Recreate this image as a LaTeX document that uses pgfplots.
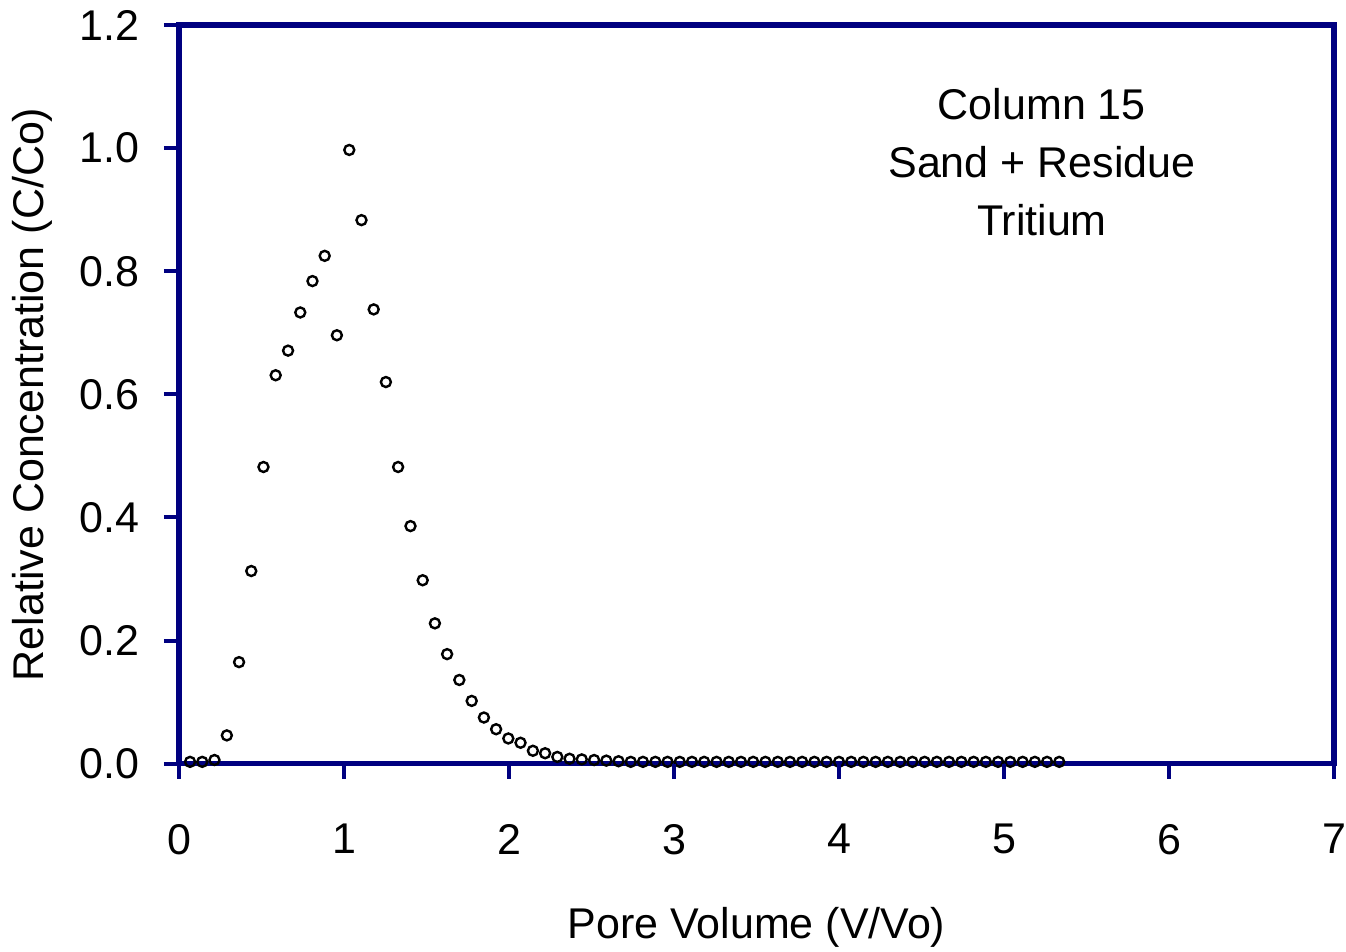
\documentclass[border=0pt]{standalone}
\usepackage{pgfplots}
\pgfplotsset{compat=1.18}
\usepackage{fontspec}
\setmainfont{Liberation Sans}
\definecolor{axnavy}{RGB}{0,0,128}
\begin{document}
\begin{tikzpicture}
\useasboundingbox (-179pt,-188.3pt) rectangle (1167pt,763.7pt);
\begin{axis}[
  at={(0,0)}, anchor=south west,
  scale only axis, width=1155pt, height=738.7pt,
  tick align=outside,
  major tick length=15pt,
  every tick/.append style={draw=axnavy, line width=4pt},
  xtick pos=bottom, ytick pos=left,
  xmin=0, xmax=7, ymin=0, ymax=1.2,
  xtick={0,1,2,3,4,5,6,7},
  ytick={0,0.2,0.4,0.6,0.8,1.0,1.2},
  yticklabels={0.0,0.2,0.4,0.6,0.8,1.0,1.2},
  xticklabels={0,1,2,3,4,5,6,7},
  axis line style={draw=axnavy, line width=5.5pt},
  clip=false,
  xticklabel style={font=\fontsize{43}{58}\selectfont, yshift=-42pt},
  yticklabel style={font=\fontsize{43}{58}\selectfont, xshift=-21pt},
  label style={font=\fontsize{43}{58}\selectfont},
  xlabel={Pore Volume (V/Vo)},
  ylabel={Relative Concentration (C/Co)},
  xlabel style={at={(axis description cs:0.5,-0.2373)}, anchor=base},
  ylabel style={at={(axis description cs:-0.1169,0.5)}, anchor=base},
  extra description/.code={
    \foreach \i in {0,1,2,3,4,5,6,7} {\draw[axnavy, line width=4pt] (axis cs:\i,0) -- ++(0,-15pt);}
    \foreach \v in {0,0.2,0.4,0.6,0.8,1.0,1.2} {\draw[axnavy, line width=4pt] (axis cs:0,\v) -- ++(-15pt,0);}
  },
]
\addplot[only marks, mark=o, mark size=5pt, mark options={draw=black, line width=2.4pt}] coordinates {
(0.067,0.003) (0.141,0.003) (0.215,0.006) (0.290,0.046) (0.364,0.165)
(0.438,0.313) (0.512,0.482) (0.586,0.631) (0.661,0.671) (0.735,0.733)
(0.809,0.784) (0.883,0.825) (0.957,0.696) (1.032,0.997) (1.106,0.883)
(1.180,0.738) (1.254,0.620) (1.328,0.482) (1.403,0.386) (1.477,0.298)
(1.551,0.228) (1.625,0.178) (1.699,0.136) (1.774,0.102) (1.848,0.075)
(1.922,0.056) (1.996,0.041) (2.070,0.034) (2.145,0.021) (2.219,0.017)
(2.293,0.011) (2.367,0.008) (2.441,0.007) (2.516,0.006) (2.590,0.005)
(2.664,0.004) (2.738,0.003) (2.812,0.003) (2.887,0.003) (2.961,0.003)
(3.035,0.003) (3.109,0.003) (3.183,0.003) (3.258,0.003) (3.332,0.003)
(3.406,0.003) (3.480,0.003) (3.554,0.003) (3.629,0.003) (3.703,0.003)
(3.777,0.003) (3.851,0.003) (3.925,0.003) (4.000,0.003) (4.074,0.003)
(4.148,0.003) (4.222,0.003) (4.296,0.003) (4.371,0.003) (4.445,0.003)
(4.519,0.003) (4.593,0.003) (4.667,0.003) (4.742,0.003) (4.816,0.003)
(4.890,0.003) (4.964,0.003) (5.038,0.003) (5.113,0.003) (5.187,0.003)
(5.261,0.003) (5.335,0.003)
};
\node[align=center, font=\fontsize{43}{58}\selectfont] at (axis cs:5.23,0.977) {Column 15\\Sand + Residue\\Tritium};
\end{axis}
\end{tikzpicture}
\end{document}
